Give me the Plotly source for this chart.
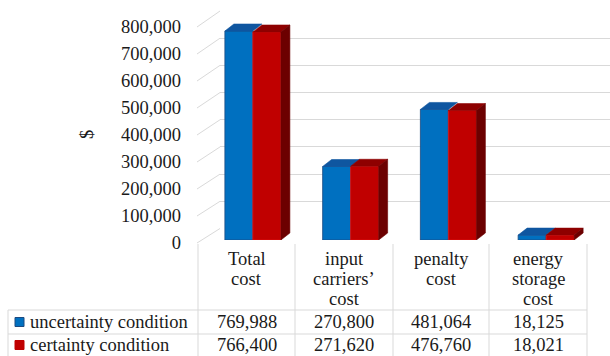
import plotly.graph_objects as go

# ---- data -------------------------------------------------------------
categories = ["Total\ncost", "input\ncarriers’\ncost", "penalty\ncost", "energy\nstorage\ncost"]
series_names = ["uncertainty condition", "certainty condition"]
uncertainty = [769988, 270800, 481064, 18125]
certainty = [766400, 271620, 476760, 18021]
y_ticks = [0, 100000, 200000, 300000, 400000, 500000, 600000, 700000, 800000]

# ---- styling ----------------------------------------------------------
W, H = 610, 356
FONT = "Liberation Serif, Times New Roman, serif"
FS = 18.5
TXT = "#1a1a1a"
GRID = "#d9d9d9"
BLUE, BLUE_TOP = "#0070c0", "#0f56a0"
RED, RED_TOP, RED_SIDE = "#c00000", "#8e0000", "#6c0000"
Y_MAX = 800000


def fx(px):
    return px / W


def fy(py):
    return 1 - py / H


# pixel geometry of the pseudo-3D frame
back_left, back_zero, back_top = 220, 228.5, 11      # back wall
front_left, front_zero, front_top = 197, 243, 27     # front edge of side wall
bar_zero, bar_px_per_unit = 240, 27.14 / 100000      # bar front plane
bar_left, bar_right = 204, 595
col_edges = [198, 295, 393, 489, 587]                # data table columns
table_left = 8
row_lines = [310, 334]
row_centers = [322, 345]

bar_w = 28 / ((bar_right - bar_left) / 4)
depth_x = 9 / ((bar_right - bar_left) / 4)
depth_y = 7 / bar_px_per_unit

fig = go.Figure()

# invisible anchors so every axis pair is drawn
fig.add_trace(go.Scatter(x=[0], y=[0], xaxis="x", yaxis="y", mode="markers",
                         marker=dict(opacity=0), showlegend=False, hoverinfo="skip"))
fig.add_trace(go.Scatter(x=[0], y=[0], xaxis="x3", yaxis="y3", mode="markers",
                         marker=dict(opacity=0), showlegend=False, hoverinfo="skip"))

xs = list(range(len(categories)))

fig.add_trace(go.Bar(x=xs, y=uncertainty, name=series_names[0], xaxis="x2", yaxis="y2",
                     width=bar_w, offset=-bar_w, marker=dict(color=BLUE, line=dict(color="#1c4a80", width=0.8)),
                     showlegend=False))
fig.add_trace(go.Bar(x=xs, y=certainty, name=series_names[1], xaxis="x2", yaxis="y2",
                     width=bar_w, offset=0, marker=dict(color=RED, line=dict(color="#e01010", width=0.8)),
                     showlegend=False))


def faces(vals, left_off, kind):
    px, py = [], []
    for i, v in enumerate(vals):
        x0 = i + left_off
        x1 = x0 + bar_w
        if kind == "top":
            pts = [(x0, v), (x1, v), (x1 + depth_x, v + depth_y), (x0 + depth_x, v + depth_y), (x0, v)]
        else:
            pts = [(x1, 0), (x1 + depth_x, depth_y), (x1 + depth_x, v + depth_y), (x1, v), (x1, 0)]
        px += [p[0] for p in pts] + [None]
        py += [p[1] for p in pts] + [None]
    return px, py


for vals, off, kind, color in [
    (uncertainty, -bar_w, "top", BLUE_TOP),
    (certainty, 0, "top", RED_TOP),
    (certainty, 0, "side", RED_SIDE),
]:
    px, py = faces(vals, off, kind)
    fig.add_trace(go.Scatter(x=px, y=py, xaxis="x2", yaxis="y2", mode="lines", fill="toself",
                             fillcolor=color, line=dict(color=color, width=0.6),
                             showlegend=False, hoverinfo="skip"))

shapes = []
# side-wall gridlines
for v in y_ticks:
    fyv = front_zero - (front_zero - front_top) * v / Y_MAX
    byv = back_zero - (back_zero - back_top) * v / Y_MAX
    shapes.append(dict(type="line", xref="paper", yref="paper", layer="below",
                       x0=fx(front_left), y0=fy(fyv), x1=fx(back_left), y1=fy(byv),
                       line=dict(color=GRID, width=1)))

# data table grid
for xe in col_edges:
    shapes.append(dict(type="line", xref="paper", yref="paper", x0=fx(xe), x1=fx(xe),
                       y0=fy(front_zero + 1), y1=0, line=dict(color=GRID, width=1)))
shapes.append(dict(type="line", xref="paper", yref="paper", x0=fx(table_left), x1=fx(table_left),
                   y0=fy(row_lines[0]), y1=0, line=dict(color=GRID, width=1)))
for yl in row_lines:
    shapes.append(dict(type="line", xref="paper", yref="paper", x0=fx(table_left), x1=fx(col_edges[-1]),
                       y0=fy(yl), y1=fy(yl), line=dict(color=GRID, width=1)))

# legend keys inside the table
key_colors = [(BLUE, "#1c4a80"), (RED, RED)]
for (fc, lc), yc in zip(key_colors, row_centers):
    shapes.append(dict(type="rect", xref="paper", yref="paper",
                       x0=fx(15), x1=fx(24), y0=fy(yc + 4.5), y1=fy(yc - 4.5),
                       fillcolor=fc, line=dict(color=lc, width=1)))

annotations = []
# category headers
for i, cat in enumerate(categories):
    cx = (col_edges[i] + col_edges[i + 1]) / 2
    for j, line in enumerate(cat.split("\n")):
        annotations.append(dict(xref="paper", yref="paper", x=fx(cx), y=fy(259 + 20 * j),
                                text=line, showarrow=False, xanchor="center", yanchor="middle",
                                font=dict(family=FONT, size=FS, color=TXT)))
# series names and values
for name, vals, yc in zip(series_names, [uncertainty, certainty], row_centers):
    annotations.append(dict(xref="paper", yref="paper", x=fx(28), y=fy(yc), text=name,
                            showarrow=False, xanchor="left", yanchor="middle",
                            font=dict(family=FONT, size=FS, color=TXT)))
    for i, v in enumerate(vals):
        cx = (col_edges[i] + col_edges[i + 1]) / 2
        annotations.append(dict(xref="paper", yref="paper", x=fx(cx), y=fy(yc), text=f"{v:,}",
                                showarrow=False, xanchor="center", yanchor="middle",
                                font=dict(family=FONT, size=FS, color=TXT)))
# axis title
annotations.append(dict(xref="paper", yref="paper", x=fx(87), y=fy(135), text="$", textangle=-90,
                        showarrow=False, xanchor="center", yanchor="middle",
                        font=dict(family=FONT, size=FS, color=TXT)))

fig.update_layout(
    width=W, height=H,
    margin=dict(l=0, r=0, t=0, b=0, pad=0),
    paper_bgcolor="white", plot_bgcolor="rgba(0,0,0,0)",
    barmode="overlay",
    showlegend=False,
    shapes=shapes,
    annotations=annotations,
    # back wall gridlines
    xaxis=dict(domain=[fx(back_left), 1], range=[0, 1], visible=False, automargin=False),
    yaxis=dict(domain=[fy(back_zero), fy(back_top)], range=[0, Y_MAX], tickvals=y_ticks,
               showgrid=True, gridcolor=GRID, gridwidth=1, zeroline=False, automargin=False,
               showticklabels=False, ticks="", showline=False),
    # bars
    xaxis2=dict(domain=[fx(bar_left), fx(bar_right)], range=[-0.5, 3.5], visible=False,
                anchor="y2", automargin=False),
    yaxis2=dict(domain=[fy(bar_zero), fy(bar_zero - Y_MAX * bar_px_per_unit)], range=[0, Y_MAX],
                visible=False, anchor="x2", automargin=False),
    # front value axis labels
    xaxis3=dict(domain=[fx(182), fx(196)], range=[0, 1], visible=False, anchor="y3", automargin=False),
    yaxis3=dict(domain=[fy(front_zero), fy(front_top)], range=[0, Y_MAX], anchor="x3",
                tickvals=y_ticks, tickformat=",", showgrid=False, zeroline=False, showline=False,
                ticks="", automargin=False, tickfont=dict(family=FONT, size=FS, color=TXT)),
)

fig.write_html("out.html")
